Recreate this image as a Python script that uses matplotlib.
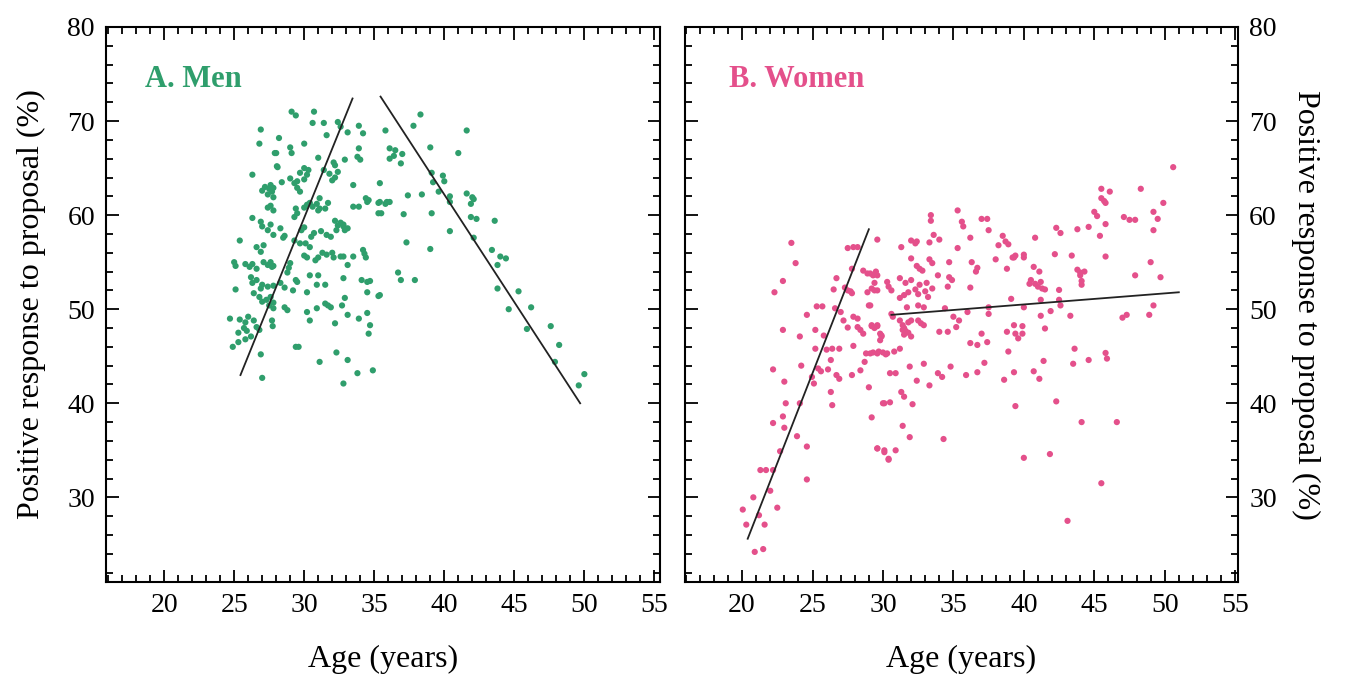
import matplotlib
matplotlib.use("Agg")
import matplotlib.pyplot as plt
from matplotlib.ticker import MultipleLocator

# ---- data ----
men_x = [
    26.9, 26.8, 28.0, 28.05, 26.3, 27.2, 27.5, 27.0, 27.4, 27.8, 27.6, 27.8, 27.4, 26.3,
    26.9, 27.0, 27.4, 25.4, 26.6, 27.1, 26.9, 25.0, 25.1, 25.8, 26.1, 26.3, 26.6, 27.1,
    27.4, 27.8, 26.2, 26.3, 26.6, 26.9, 27.0, 27.4, 27.8, 25.1, 26.4, 26.8, 27.0, 27.3,
    27.5, 27.8, 24.7, 25.4, 25.8, 26.0, 25.7, 25.3, 25.9, 26.4, 26.6, 26.2, 26.8, 24.9,
    25.3, 25.8, 27.7, 27.75, 26.9, 27.0,
    29.1, 29.4, 30.7, 30.6, 31.4, 32.4, 32.6, 33.9, 34.2, 31.6, 33.1, 28.2, 30.0, 29.0,
    29.1, 27.9, 33.9, 31.0, 28.1, 33.8, 34.0, 32.1, 32.2, 32.9, 30.0, 30.3, 30.2, 29.7,
    30.0, 29.5, 29.0, 29.3, 28.4, 31.4, 31.8, 32.2, 32.0, 32.4, 27.6, 27.7, 27.8, 33.5,
    34.4, 34.6, 34.5, 35.4, 35.4, 35.9, 35.5, 29.5, 29.7, 30.2, 30.4, 30.0, 29.4, 29.5,
    29.3, 30.9, 31.0, 31.1, 30.6, 31.1, 31.7, 31.5, 33.5, 33.9, 32.2, 32.4, 32.6, 32.8,
    32.9, 32.3, 32.8, 33.1, 27.6, 28.3, 28.6, 28.5, 27.8, 30.0, 29.8, 30.7, 30.5, 31.2,
    31.6, 31.9, 29.3, 29.7, 30.1, 30.4, 31.3, 31.6, 32.0, 32.1, 32.6, 32.8, 33.5, 30.0,
    30.2, 30.8, 31.0, 29.0, 28.9, 28.8, 34.2, 34.4, 34.3, 33.1, 27.6, 27.7, 30.4, 31.0,
    29.4, 29.5, 28.3, 28.6, 32.8, 34.1, 34.5, 34.7, 30.9, 31.5, 30.2, 29.2, 34.5, 35.4,
    27.6, 27.8, 32.9, 31.5, 31.7, 31.9, 32.7, 28.6, 28.8, 30.9, 30.2, 30.4, 33.1, 33.9,
    34.5, 34.7, 34.6, 32.2, 29.4, 29.6, 32.3, 33.1, 31.1, 34.9, 33.8, 32.8,
    35.8, 35.3, 35.3, 35.8, 35.3,
    38.3, 37.8, 41.6, 39.0, 36.1, 36.5, 36.4, 36.1, 37.0, 36.9, 41.0, 39.1, 39.9, 39.2,
    40.0, 39.6, 40.4, 40.4, 41.6, 41.9, 42.1, 42.0, 36.1, 37.4, 38.4, 37.1, 39.1, 41.9,
    42.3, 43.6, 40.4, 42.1, 37.3, 43.4, 44.0, 44.4, 43.8, 39.0, 36.7, 36.9, 37.9, 43.8,
    45.3, 44.6, 46.2, 45.9, 47.6, 48.2, 47.9, 50.0, 49.6,
]
men_y = [
    69.1, 67.6, 66.6, 65.2, 64.3, 63.0, 62.8, 62.6, 62.2, 62.9, 61.0, 60.5, 60.8, 59.7,
    59.3, 58.8, 58.4, 57.3, 56.6, 56.8, 56.1, 55.0, 54.6, 54.8, 54.5, 54.8, 54.3, 55.0,
    54.7, 54.6, 53.4, 52.8, 53.1, 52.2, 52.6, 52.4, 52.5, 52.1, 51.7, 51.3, 50.8, 51.0,
    50.4, 50.1, 49.0, 48.9, 48.6, 49.2, 48.0, 47.5, 47.7, 48.8, 48.1, 47.1, 47.8, 46.0,
    46.5, 46.8, 48.8, 48.2, 45.2, 42.7,
    71.0, 70.6, 71.0, 69.8, 69.8, 69.9, 69.4, 69.5, 68.7, 68.5, 68.8, 68.2, 67.6, 67.2,
    66.6, 66.6, 67.1, 66.1, 65.1, 66.2, 65.9, 65.6, 65.3, 65.9, 65.0, 64.8, 64.3, 64.5,
    63.8, 63.6, 63.9, 63.4, 63.5, 64.8, 64.4, 64.0, 63.7, 64.6, 63.2, 62.5, 61.9, 63.2,
    61.8, 61.6, 61.4, 63.4, 61.4, 61.4, 60.2, 62.9, 62.5, 61.1, 61.3, 60.8, 60.7, 60.2,
    59.8, 61.2, 60.5, 61.8, 60.9, 60.7, 61.3, 60.7, 60.9, 60.9, 59.4, 58.9, 59.2, 59.0,
    58.4, 58.4, 58.8, 58.6, 59.0, 58.6, 57.8, 57.6, 57.9, 58.7, 58.4, 58.1, 57.7, 58.3,
    57.9, 57.7, 57.3, 57.0, 57.0, 56.6, 56.0, 55.8, 56.0, 55.5, 55.6, 55.6, 55.6, 55.7,
    55.5, 55.2, 55.5, 54.9, 54.4, 53.9, 56.3, 55.5, 55.9, 54.7, 55.0, 54.5, 53.6, 53.6,
    53.1, 52.9, 52.8, 52.3, 53.3, 53.1, 52.9, 53.0, 52.6, 52.6, 51.8, 52.0, 51.8, 51.5,
    51.3, 50.7, 51.2, 50.6, 50.4, 50.2, 50.4, 50.2, 49.9, 50.1, 49.7, 48.8, 49.4, 49.0,
    49.6, 48.3, 47.4, 48.5, 46.0, 46.0, 45.4, 44.6, 44.4, 43.5, 43.2, 42.1,
    69.0, 61.3, 60.2, 61.2, 51.4,
    70.7, 69.5, 69.0, 67.2, 67.1, 66.9, 66.3, 66.0, 66.5, 65.5, 66.6, 64.5, 64.2, 63.5,
    63.6, 62.5, 62.0, 61.4, 62.3, 61.2, 61.7, 61.9, 61.4, 62.1, 62.2, 60.1, 60.2, 59.8,
    59.6, 59.4, 58.3, 57.6, 57.1, 56.3, 55.6, 55.4, 54.7, 56.4, 53.9, 53.1, 53.1, 52.2,
    51.9, 50.0, 50.2, 47.9, 48.2, 46.2, 44.4, 43.1, 41.9,
]

women_x = [
    23.5, 23.8, 22.9, 22.3, 24.6, 25.3, 25.7, 22.9, 24.1, 25.2, 25.8, 25.2, 26.0, 26.4,
    26.9, 26.3, 25.4, 25.6, 26.1, 24.2, 22.2, 26.7, 26.9, 24.96, 25.1, 23.0, 26.3, 23.1,
    24.1, 26.4, 22.9, 23.0, 22.2, 23.9, 24.6, 22.7, 21.3, 21.7, 22.2, 24.6, 22.0, 20.8,
    20.05, 22.5, 21.2, 21.6, 20.3, 20.9, 21.5, 27.5, 27.9, 28.2, 29.6, 27.8, 28.6, 28.9,
    29.3, 29.5, 26.7, 26.5, 27.3, 27.5, 27.8, 27.7, 28.9, 29.4, 29.0, 26.6, 27.0, 27.2,
    27.9, 28.2, 27.5, 28.2, 28.4, 28.6, 29.2, 29.6, 29.9, 29.8, 27.9, 28.8, 29.3, 29.7,
    30.0, 30.3, 28.7, 28.4, 27.8, 29.0, 30.1, 29.2, 29.6, 30.1, 30.4,
    33.4, 33.4, 35.3, 35.6, 35.7, 37.0, 37.4, 37.5, 31.3, 32.0, 32.3, 32.4, 33.3, 33.6,
    34.0, 35.3, 36.2, 38.2, 38.5, 38.7, 38.9, 38.0, 39.3, 40.0, 39.2, 38.8, 32.0, 32.4,
    32.6, 32.8, 33.3, 33.5, 34.7, 36.3, 36.7, 36.6, 33.9, 34.7, 34.9, 29.1, 29.6, 29.4,
    29.2, 29.6, 30.3, 30.4, 30.6, 31.2, 31.6, 31.8, 31.5, 31.2, 32.0, 32.3, 32.5, 32.6,
    33.0, 33.1, 33.2, 33.5, 34.6, 36.2, 40.4, 39.1, 29.1, 31.7, 32.5, 32.9, 34.4, 36.0,
    37.5, 37.5, 40.0, 29.2, 29.6, 29.4, 30.6, 30.7, 31.2, 31.4, 31.5, 31.8, 32.0, 32.5,
    32.7, 32.9, 35.0, 35.4, 35.2, 31.4, 31.5, 31.8, 32.0, 31.6, 29.8, 29.9, 34.0, 34.6,
    37.0, 38.8, 39.4, 39.6, 39.9, 36.2, 36.7, 37.4, 29.1, 29.6, 30.2, 30.8, 31.2, 38.9,
    31.9, 32.9, 33.9, 34.2, 34.8, 35.9, 36.7, 37.2, 38.6, 39.3, 30.5, 30.9, 32.4, 33.3,
    31.3, 31.5, 30.0, 30.5, 32.1, 31.4, 31.9, 34.3, 39.4, 29.6, 30.1, 30.9, 30.4, 40.0,
    50.6, 48.3, 45.5, 46.1, 45.5, 45.7, 45.8, 49.9, 45.0, 45.2, 49.2, 49.5, 47.1, 47.5,
    47.9, 42.3, 42.6, 43.8, 44.6, 45.8, 49.2, 40.8, 45.4, 39.4, 40.0, 42.2, 43.4, 45.8,
    49.0, 40.7, 41.1, 43.8, 44.0, 44.3, 44.0, 47.9, 49.7, 40.5, 40.8, 41.0, 41.2, 41.3,
    42.5, 41.5, 44.1, 44.1, 41.2, 42.5, 42.6, 41.2, 41.9, 43.3, 47.0, 47.3, 48.9, 49.2,
    41.5, 39.3, 39.9, 43.6, 41.4, 45.8, 45.9, 43.5, 44.6, 40.7, 41.1, 42.3, 44.1, 46.6,
    41.85, 45.5, 43.1,
]
women_y = [
    57.05, 54.9, 53.0, 51.8, 49.4, 50.3, 50.3, 47.8, 47.1, 47.8, 47.2, 45.8, 45.7, 45.8,
    45.8, 44.6, 43.7, 43.4, 43.6, 44.0, 43.6, 43.0, 42.6, 42.8, 42.1, 42.3, 41.2, 40.0,
    40.0, 39.8, 38.6, 37.4, 37.9, 36.5, 35.4, 34.9, 32.9, 32.9, 32.9, 31.9, 30.7, 30.0,
    28.7, 28.9, 28.1, 27.1, 27.1, 24.2, 24.5, 56.5, 56.6, 56.6, 57.4, 54.3, 54.1, 53.8,
    53.6, 54.0, 53.3, 52.1, 52.3, 52.0, 51.7, 51.9, 51.8, 52.0, 50.4, 50.1, 49.7, 48.8,
    49.2, 49.0, 48.05, 48.1, 47.8, 47.4, 48.2, 48.2, 47.2, 46.7, 46.1, 45.3, 45.4, 45.5,
    45.4, 45.3, 44.4, 43.5, 43.0, 41.7, 40.0, 38.5, 35.2, 35.0, 34.1,
    60.0, 59.4, 60.5, 59.3, 58.8, 59.6, 59.6, 58.4, 56.6, 57.3, 57.0, 57.2, 57.1, 57.9,
    57.4, 56.5, 57.6, 56.8, 57.8, 57.2, 56.9, 55.3, 55.5, 55.8, 55.5, 54.3, 55.4, 54.6,
    54.3, 54.1, 55.3, 54.9, 55.0, 55.0, 54.4, 54.0, 53.6, 53.4, 53.1, 53.8, 53.6, 52.8,
    52.2, 52.0, 52.9, 52.4, 52.0, 53.3, 52.8, 51.8, 51.5, 51.2, 53.1, 52.1, 51.6, 52.6,
    51.9, 52.8, 51.3, 52.2, 52.4, 52.3, 52.7, 51.1, 50.4, 50.2, 50.4, 50.2, 50.1, 49.7,
    50.2, 49.5, 50.2, 48.3, 48.3, 48.0, 49.5, 49.2, 48.8, 48.3, 48.0, 48.6, 48.8, 48.8,
    48.5, 48.3, 49.2, 48.8, 48.1, 47.8, 47.3, 47.5, 47.1, 47.7, 47.4, 47.1, 47.6, 47.6,
    47.4, 47.6, 47.4, 46.9, 48.2, 46.4, 46.2, 46.5, 45.3, 45.3, 45.2, 45.5, 45.8, 45.5,
    43.9, 44.2, 43.2, 42.8, 43.9, 43.0, 43.3, 44.3, 42.5, 43.3, 43.2, 43.2, 42.4, 41.9,
    41.2, 40.7, 40.0, 40.1, 39.9, 37.6, 36.4, 36.2, 39.7, 35.2, 34.8, 35.0, 34.0, 34.2,
    65.1, 62.8, 62.8, 62.5, 61.8, 61.5, 61.3, 61.3, 60.35, 59.9, 60.35, 59.6, 59.8, 59.5,
    59.5, 58.65, 58.1, 58.5, 58.75, 59.05, 58.4, 57.6, 57.8, 55.7, 55.5, 55.85, 55.7, 55.6,
    55.0, 54.5, 54.0, 54.2, 53.9, 54.0, 53.6, 53.6, 53.4, 53.1, 52.7, 52.4, 52.9, 52.2,
    52.05, 52.1, 53.0, 52.6, 51.0, 51.0, 50.4, 49.3, 49.8, 49.3, 49.1, 49.4, 49.4, 50.4,
    47.95, 48.3, 47.4, 45.8, 44.5, 45.35, 44.75, 44.2, 44.6, 43.4, 42.6, 40.2, 38.0, 38.0,
    34.6, 31.5, 27.5,
]

# fitted segments (end points)
men_fit_x = [[25.45, 33.45], [35.45, 49.7]]
men_fit_y = [[43.0, 72.4], [72.6, 40.0]]
women_fit_x = [[20.4, 29.0], [30.6, 51.0]]
women_fit_y = [[25.6, 58.5], [49.4, 51.8]]

GREEN = "#2f9e6c"
PINK = "#e4508b"

plt.rcParams["font.family"] = ["Liberation Serif", "DejaVu Serif"]

fig = plt.figure(figsize=(13.5, 6.78), dpi=100)
ax1 = fig.add_axes([106 / 1350, 96 / 678, 554 / 1350, 555 / 678])
ax2 = fig.add_axes([685 / 1350, 96 / 678, 553 / 1350, 555 / 678])


def style(ax, right=False):
    ax.set_ylim(21, 80)
    ax.xaxis.set_major_locator(MultipleLocator(5))
    ax.xaxis.set_minor_locator(MultipleLocator(1))
    ax.yaxis.set_major_locator(MultipleLocator(10))
    ax.yaxis.set_minor_locator(MultipleLocator(2))
    ax.tick_params(which="both", direction="in", top=True, right=True,
                   bottom=True, left=True, labelsize=20, width=1.3, pad=8)
    ax.tick_params(which="major", length=9)
    ax.tick_params(which="minor", length=5)
    ax.set_yticks([30, 40, 50, 60, 70, 80])
    ax.set_xticks([20, 25, 30, 35, 40, 45, 50, 55])
    if right:
        ax.tick_params(labelleft=False, labelright=True)
    for s in ax.spines.values():
        s.set_linewidth(1.5)
    ax.set_xlabel("Age (years)", fontsize=23, va="center")
    ax.xaxis.set_label_coords(0.5, -0.14)
    ax.set_ylabel("Positive response to proposal (%)", fontsize=23,
                  rotation=270 if right else 90, va="center", ha="center")
    if right:
        ax.yaxis.set_label_position("right")
        ax.yaxis.set_label_coords(1.148, 0.5)
    else:
        ax.yaxis.set_label_coords(-0.135, 0.5)


ax1.scatter(men_x, men_y, s=20, color=GREEN, edgecolors="none", zorder=2)
for xs, ys in zip(men_fit_x, men_fit_y):
    ax1.plot(xs, ys, color="#222222", lw=1.3, zorder=3)
ax1.set_xlim(15.85, 55.4)
style(ax1)
ax1.text(18.6, 74.4, "A. Men", color=GREEN, fontsize=22, fontweight="bold",
         va="center", ha="left")

ax2.scatter(women_x, women_y, s=20, color=PINK, edgecolors="none", zorder=2)
for xs, ys in zip(women_fit_x, women_fit_y):
    ax2.plot(xs, ys, color="#222222", lw=1.3, zorder=3)
ax2.set_xlim(15.95, 55.2)
style(ax2, right=True)
ax2.text(19.1, 74.4, "B. Women", color=PINK, fontsize=22, fontweight="bold",
         va="center", ha="left")

fig.savefig("out.png", dpi=100)
